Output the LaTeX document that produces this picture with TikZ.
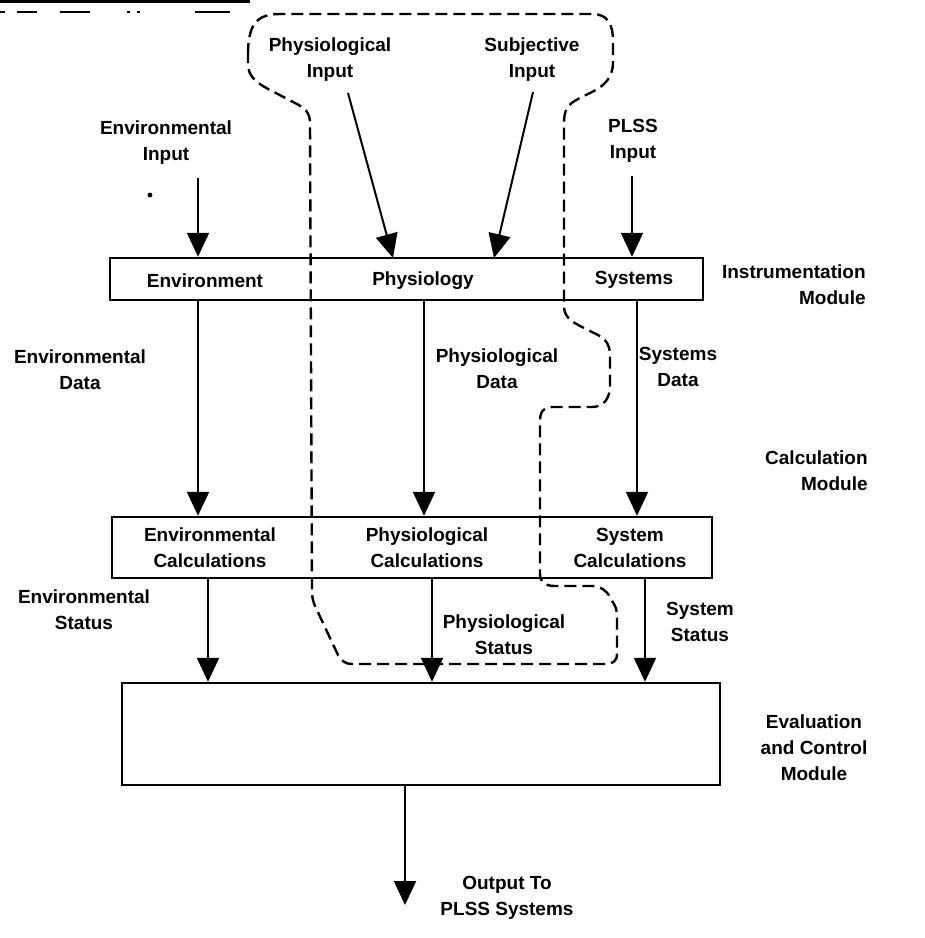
\documentclass[tikz,border=0pt]{standalone}
\usepackage{fontspec}
\setmainfont{Liberation Sans}
\usetikzlibrary{arrows.meta}
\begin{document}
\begin{tikzpicture}[x=0.5pt,y=-0.5pt,
  font=\fontsize{9.5}{13}\selectfont\bfseries,
  every node/.style={inner sep=0pt,align=center},
  module/.style={draw,line width=1.2pt,inner sep=0pt},
  arr/.style={line width=1pt,-{Triangle[width=11pt,length=12pt]}},
  loop/.style={line width=1.2pt,dash pattern=on 6pt off 3pt,line join=round}]
% page
\fill[white] (0,0) rectangle (925,938);
\useasboundingbox (0,0) rectangle (925,938);

% marks along the top edge of the sheet
\draw[line width=2pt] (0,1) -- (250,1);
\foreach \a/\b in {0/5,17/37,60/90,127/130,137/140,195/230}
  \draw[line width=0.8pt] (\a,12) -- (\b,12);
\fill (150,195) circle (1.2pt);

% module boxes
\node[module,minimum width=296.5pt,minimum height=21pt] (instr) at (406.5,279) {};
\node[module,minimum width=300pt,minimum height=30.5pt] (calc) at (412,547.5) {};
\node[module,minimum width=299pt,minimum height=51pt] (eval) at (421,734) {};

% box contents
\node (tenv) at (205,281) {Environment};
\node (tphy) at (423,281) {Physiology};
\node (tsys) at (634,280) {Systems};
\node (cenv) at (210,548) {Environmental\\Calculations};
\node (cphy) at (427,548) {Physiological\\Calculations};
\node (csys) at (630,548) {System\\Calculations};

% module labels
\node[anchor=east,align=right] (linstr) at (866,285) {Instrumentation\\Module};
\node[anchor=east,align=right] (lcalc) at (868,471) {Calculation\\Module};
\node (leval) at (814,748) {Evaluation\\and Control\\Module};

% inputs
\node (envin) at (166,143) {Environmental\\Input};
\node (physin) at (330,60) {Physiological\\Input};
\node (subjin) at (532,60) {Subjective\\Input};
\node (plssin) at (633,141) {PLSS\\Input};

% flow labels
\node (envdata) at (80,370) {Environmental\\Data};
\node (physdata) at (497,369) {Physiological\\Data};
\node (sysdata) at (678,367) {Systems\\Data};
\node (envstat) at (84,610) {Environmental\\Status};
\node (physstat) at (504,635) {Physiological\\Status};
\node (sysstat) at (700,622) {System\\Status};
\node (outlbl) at (507,898) {Output To\\PLSS Systems};

% column positions of the flow lines
\coordinate (ea) at (198,178);
\coordinate (pa) at (632,176);
\coordinate (ps) at (348,93);
\coordinate (pt) at (393,258);
\coordinate (ss) at (533,92);
\coordinate (st) at (494,258);
\coordinate (c1) at (198,0);
\coordinate (c2) at (424,0);
\coordinate (c3) at (637,0);
\coordinate (d1) at (208,0);
\coordinate (d2) at (432,0);
\coordinate (d3) at (645,0);
\coordinate (out) at (405,905);

% input arrows
\draw[arr] (ea) -- (ea |- instr.north);
\draw[arr] (pa) -- (pa |- instr.north);
\draw[arr] (ps) -- (pt);
\draw[arr] (ss) -- (st);

% instrumentation -> calculation
\draw[arr] (instr.south -| c1) -- (calc.north -| c1);
\draw[arr] (instr.south -| c2) -- (calc.north -| c2);
\draw[arr] (instr.south -| c3) -- (calc.north -| c3);

% calculation -> evaluation
\draw[arr] (calc.south -| d1) -- (eval.north -| d1);
\draw[arr] (calc.south -| d2) -- (eval.north -| d2);
\draw[arr] (calc.south -| d3) -- (eval.north -| d3);

% evaluation -> output
\draw[arr] (eval.south -| out) -- (out);

% dashed boundary of the physiological path
\draw[loop]
  (248,55) .. controls (248,25) and (256,14) .. (280,14)
  -- (592,14) .. controls (608,14) and (613,24) .. (613,42)
  -- (613,62) .. controls (613,78) and (604,86) .. (592,92)
  -- (578,99) .. controls (567,105) and (564,110) .. (564,124)
  -- (564,306) .. controls (564,316) and (570,321) .. (582,327)
  -- (598,335) .. controls (607,340) and (610,346) .. (610,356)
  -- (610,386) .. controls (610,399) and (603,407) .. (592,407)
  -- (552,407) .. controls (543,407) and (540,412) .. (540,422)
  -- (540,574) .. controls (540,582) and (545,586) .. (555,586)
  -- (592,586) .. controls (600,586) and (606,590) .. (610,597)
  -- (615,606) .. controls (617,610) and (617,614) .. (617,620)
  -- (617,654) .. controls (617,661) and (613,664) .. (605,664)
  -- (352,664) .. controls (345,664) and (342,661) .. (338,655)
  -- (316,608) .. controls (313,602) and (312,598) .. (312,590)
  -- (310,124) .. controls (310,112) and (305,108) .. (295,103)
  -- (272,91) .. controls (256,83) and (248,76) .. (248,64)
  -- cycle;
\end{tikzpicture}
\end{document}
